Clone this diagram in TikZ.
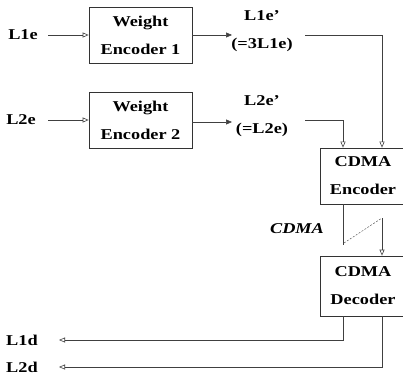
\documentclass[tikz,border=0pt]{standalone}
\usepackage{fontspec}
\setmainfont[FakeStretch=1.22]{Liberation Serif}
\usetikzlibrary{arrows.meta}
\begin{document}
\begin{tikzpicture}[x=1pt,y=-1pt,
  txt/.style={font=\fontsize{15}{28}\selectfont\bfseries, align=center, inner sep=2pt},
  box/.style={draw=black!80, line width=0.7pt, txt, minimum width=103pt, minimum height=56pt, inner sep=0pt},
  cbox/.style={draw=black!80, line width=0.7pt, txt, minimum width=86pt, inner sep=0pt},
  wire/.style={draw=black!75, line width=0.6pt},
  oarr/.style={wire, -{Triangle[open, length=6pt, width=5pt]}},
  farr/.style={wire, -{Triangle[length=6pt, width=5pt]}}]
\useasboundingbox (0,0) rectangle (403,379);
% labels
\node[txt] (l1e) at (23,35) {L1e};
\node[txt] (l2e) at (21,120) {L2e};
\node[txt] (l1d) at (22,340) {L1d};
\node[txt] (l2d) at (22,367) {L2d};
% boxes
\node[box] (we1) at (140.5,35) {Weight\\Encoder 1};
\node[box] (we2) at (140.5,120) {Weight\\Encoder 2};
\node[txt] (l1ep) at (262,31) {L1e’\\(=3L1e)};
\node[txt] (l2ep) at (262,116) {L2e’\\(=L2e)};
\node[cbox, minimum height=56pt] (enc) at (363,176) {CDMA\\Encoder};
\node[cbox, minimum height=60pt] (dec) at (363,286) {CDMA\\Decoder};
\node[font=\fontsize{15}{15}\selectfont\bfseries\itshape] (cdma) at (297,229) {CDMA};
% connectors
\draw[oarr] (l1e.east -| 48,0) -- (we1.west);
\draw[oarr] (l2e.east -| 48,0) -- (we2.west);
\draw[farr] (we1.east) -- (we1.east -| 232,0);
\draw[farr] ([yshift=-2pt]we2.east) -- ([yshift=-2pt]we2.east -| 232,0);
\coordinate (a1) at (305,35);
\coordinate (a2) at (305,120);
\draw[oarr] (a1) -| ([xshift=19pt]enc.north);
\draw[oarr] (a2) -| ([xshift=-20pt]enc.north);
\coordinate (c1) at (343,245);
\coordinate (d1) at (344,243);
\coordinate (d2) at (382,218);
\draw[wire] ([xshift=-20pt]enc.south) -- (c1);
\draw[wire, dashed, dash pattern=on 2pt off 1.5pt, line width=0.4pt] (d1) -- (d2);
\draw[oarr] (d2) -- ([xshift=19pt]dec.north);
\draw[oarr] ([xshift=-20pt]dec.south) |- (l1d.east -| 59,0);
\draw[oarr] ([xshift=19pt]dec.south) |- (l2d.east -| 59,0);
\end{tikzpicture}
\end{document}
